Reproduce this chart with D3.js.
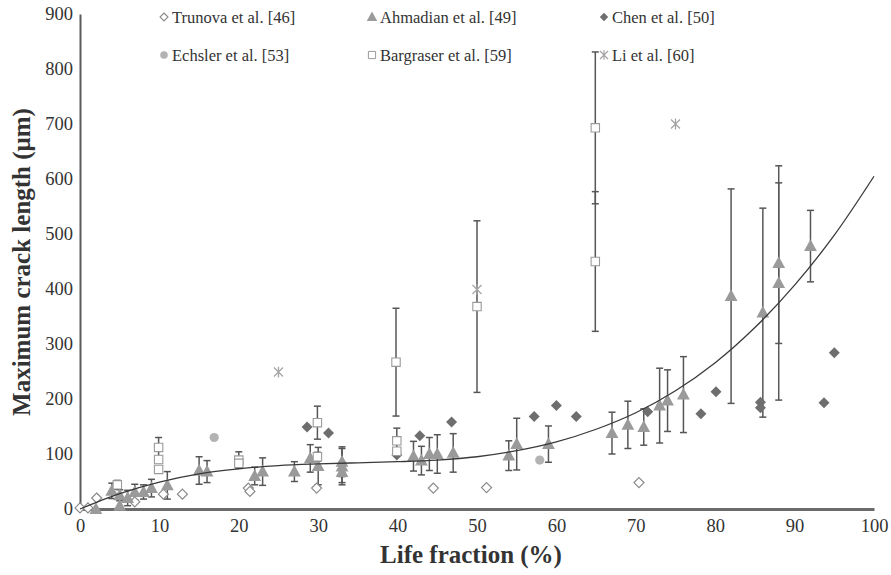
<!DOCTYPE html>
<html><head><meta charset="utf-8">
<script src="https://cdn.jsdelivr.net/npm/d3@7"></script>
<style>
html,body{margin:0;padding:0;background:#fff;}
svg{display:block;}
svg text{font-family:"Liberation Serif","Times New Roman",Tinos,"DejaVu Serif","Noto Serif",serif !important;}
</style>
</head><body>
<svg id="chart" width="891" height="575"></svg>
<script>
// ---------- data ----------
const xTicks = [0,10,20,30,40,50,60,70,80,90,100];
const yTicks = [0,100,200,300,400,500,600,700,800,900];

const trunovaX = [0, 1, 2.1, 6.9, 10.5, 12.9, 21.2, 21.4, 29.8, 44.5, 51.2, 70.4];
const trunovaY = [2, 2, 20, 13, 27, 27, 38, 32, 38, 38, 39, 48];

const ahmadianX   = [2, 4, 5, 5, 6, 6.9, 8, 9, 11, 15, 16, 22, 23, 27, 29, 30, 33, 33, 33, 42, 43, 44, 45, 47, 54, 55, 59, 67, 69, 71, 73, 74, 76, 82, 86, 88, 88, 92];
const ahmadianY   = [0, 33, 6, 25, 20, 31, 31, 38, 43, 70, 68, 60, 68, 68, 92, 78, 86, 77, 67, 96, 88, 100, 100, 102, 97, 118, 118, 138, 153, 149, 188, 197, 208, 387, 357, 447, 411, 478];
const ahmadianErr = [0, 14, 0, 10, 14, 14, 13, 16, 25, 25, 20, 16, 25, 18, 25, 34, 27, 33, 19, 27, 26, 30, 35, 35, 27, 47, 33, 38, 43, 33, 68, 56, 69, 195, 190, 146, 213, 65];

const chenX = [28.6, 31.3, 39.9, 42.8, 46.8, 57.2, 60, 62.5, 71.5, 78.2, 80.1, 85.7, 85.7, 93.7, 95];
const chenY = [149, 138, 98, 133, 158, 168, 188, 168, 177, 173, 213, 194, 184, 193, 284];

const echslerX = [16.9, 57.9];
const echslerY = [130, 89];

const bargraserX   = [4.7, 9.9, 9.9, 9.9, 20, 20, 29.9, 29.9, 39.8, 39.9, 39.9, 50, 64.9, 64.9];
const bargraserY   = [44, 112, 90, 72, 89, 83, 157, 95, 267, 124, 105, 368, 693, 450];
const bargraserErr = [8, 18, 6, 5, 15, 0, 30, 8, 98, 23, 0, 156, 138, 127];

const liX = [25, 50, 75];
const liY = [249, 399, 700];

// polynomial trendline
const trendX = [0, 5, 10, 15, 20, 25, 30, 35, 40, 45, 50, 55, 60, 65, 70, 75, 80, 85, 90, 95, 100];
const trendY = [0, 28, 49, 64, 73, 79, 82, 84, 86, 89, 95, 106, 122, 145, 175, 215, 266, 330, 407, 498, 605];

const legendNames = ["Trunova et al. [46]", "Ahmadian et al. [49]", "Chen et al. [50]",
                     "Echsler et al. [53]", "Bargraser et al. [59]", "Li et al. [60]"];

// ---------- drawing ----------
const svg = d3.select("#chart");
const x = d3.scaleLinear().domain([0,100]).range([80,874]);
const y = d3.scaleLinear().domain([0,900]).range([509,14]);

const zip = (a,b,c) => a.map((v,i)=>({x:v, y:b[i], e: c ? c[i] : 0}));

// marker paths
const diamondPath = r => `M0,${-r}L${r},0L0,${r}L${-r},0Z`;
const trianglePath = s => `M0,${-s*0.62}L${s*0.58},${s*0.45}L${-s*0.58},${s*0.45}Z`;
const squarePath = r => `M${-r},${-r}H${r}V${r}H${-r}Z`;
const starPath = r => `M${-r},${-r}L${r},${r}M${-r},${r}L${r},${-r}M0,${-r*1.2}V${r*1.2}`;

const styles = {
  trunova:   {path: diamondPath(5),  fill:"#fff",    stroke:"#8a8a8a", sw:1.2},
  ahmadian:  {path: trianglePath(11),fill:"#9a9a9a", stroke:"none",    sw:0},
  chen:      {path: diamondPath(5.5),fill:"#6e6e6e", stroke:"none",    sw:0},
  echsler:   {path: null, r:4.6,     fill:"#b3b3b3", stroke:"none",    sw:0},
  bargraser: {path: squarePath(4.2), fill:"#fff",    stroke:"#9a9a9a", sw:1.1},
  li:        {path: starPath(4.5),   fill:"none",    stroke:"#a5a5a5", sw:1.3}
};

// axes
const yAxis = d3.axisLeft(y).tickValues(yTicks).tickSize(0).tickSizeOuter(0).tickPadding(7);
const gy = svg.append("g").attr("transform","translate(80,0)").call(yAxis);
gy.attr("font-family",null);
gy.select(".domain").attr("stroke","#5a5a5a").attr("stroke-width",2);
gy.selectAll("text").attr("font-size",18.5).attr("fill","#333");

const xAxis = d3.axisBottom(x).tickValues(xTicks).tickSize(0).tickSizeOuter(0).tickPadding(10);
const gx = svg.append("g").attr("transform","translate(0,509)").call(xAxis);
gx.attr("font-family",null);
gx.select(".domain").attr("stroke","#6b6b6b").attr("stroke-width",3);
gx.selectAll("text").attr("font-size",18.5).attr("fill","#333");

// axis titles
svg.append("text").attr("x",471).attr("y",563).attr("text-anchor","middle")
  .attr("font-weight","bold").attr("font-size",25).attr("fill","#333")
  .text("Life fraction (%)");
svg.append("text").attr("transform","translate(30,262) rotate(-90)").attr("text-anchor","middle")
  .attr("font-weight","bold").attr("font-size",25).attr("fill","#333")
  .text("Maximum crack length (μm)");

// error bars
function errorBars(data){
  const g = svg.append("g").attr("stroke","#565656").attr("stroke-width",1.5).attr("fill","none");
  data.filter(d=>d.e>0).forEach(d=>{
    const cx = x(d.x), y1 = y(d.y + d.e), y2 = y(Math.max(d.y - d.e, 0));
    g.append("line").attr("x1",cx).attr("x2",cx).attr("y1",y1).attr("y2",y2);
    g.append("line").attr("x1",cx-3.5).attr("x2",cx+3.5).attr("y1",y1).attr("y2",y1);
    g.append("line").attr("x1",cx-3.5).attr("x2",cx+3.5).attr("y1",y2).attr("y2",y2);
  });
}
const ahm = zip(ahmadianX, ahmadianY, ahmadianErr);
const bar = zip(bargraserX, bargraserY, bargraserErr);
errorBars(ahm);
errorBars(bar);

function markers(data, st){
  const g = svg.append("g");
  data.forEach(d=>{
    if (st.path) {
      g.append("path").attr("d",st.path).attr("transform",`translate(${x(d.x)},${y(d.y)})`)
       .attr("fill",st.fill).attr("stroke",st.stroke).attr("stroke-width",st.sw);
    } else {
      g.append("circle").attr("cx",x(d.x)).attr("cy",y(d.y)).attr("r",st.r).attr("fill",st.fill);
    }
  });
}
markers(zip(trunovaX, trunovaY), styles.trunova);
markers(ahm, styles.ahmadian);
markers(zip(chenX, chenY), styles.chen);
markers(zip(echslerX, echslerY), styles.echsler);
markers(bar, styles.bargraser);
markers(zip(liX, liY), styles.li);

// trendline
const line = d3.line().x(d=>x(d.x)).y(d=>y(d.y)).curve(d3.curveCatmullRom.alpha(0.5));
svg.append("path").datum(zip(trendX, trendY)).attr("d",line)
  .attr("fill","none").attr("stroke","#3a3a3a").attr("stroke-width",1.3);

// legend
const legPos = [[164,17],[372,17],[604,17],[164,55],[372,55],[604,55]];
const legStyles = [
  {path: diamondPath(4),  fill:"#fff", stroke:"#8a8a8a", sw:1.1},
  {path: trianglePath(9), fill:"#9a9a9a", stroke:"none", sw:0},
  {path: diamondPath(4.2),fill:"#6e6e6e", stroke:"none", sw:0},
  {path: null, r:3.8, fill:"#b3b3b3"},
  {path: squarePath(3.6), fill:"#fff", stroke:"#9a9a9a", sw:1},
  {path: starPath(4), fill:"none", stroke:"#a5a5a5", sw:1.2}
];
legendNames.forEach((name,i)=>{
  const [lx,ly] = legPos[i], st = legStyles[i];
  if (st.path) svg.append("path").attr("d",st.path).attr("transform",`translate(${lx},${ly})`)
      .attr("fill",st.fill).attr("stroke",st.stroke).attr("stroke-width",st.sw);
  else svg.append("circle").attr("cx",lx).attr("cy",ly).attr("r",st.r).attr("fill",st.fill);
  svg.append("text").attr("x",lx+8).attr("y",ly).attr("dy","0.35em")
    .attr("font-size",16.5).attr("fill","#333").text(name);
});
</script>
</body></html>
